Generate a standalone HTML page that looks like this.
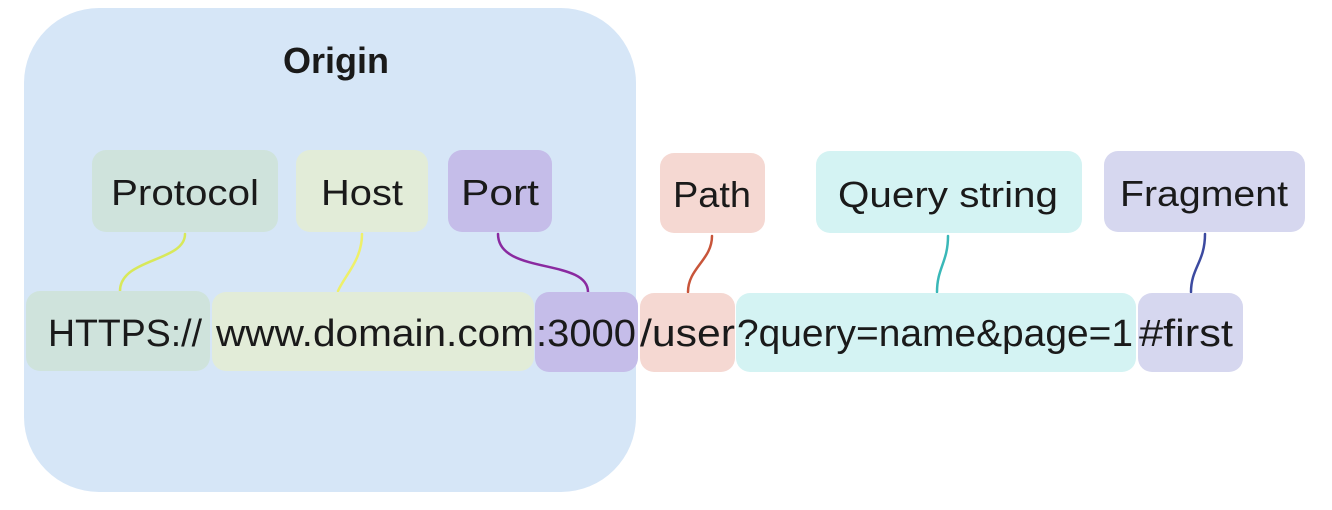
<!DOCTYPE html>
<html><head><meta charset="utf-8"><style>html,body{margin:0;padding:0;background:#fff}svg{display:block}</style></head>
<body>
<svg width="1332" height="510" viewBox="0 0 1332 510" xmlns="http://www.w3.org/2000/svg" font-family="Liberation Sans, sans-serif">
<rect x="24" y="8" width="612" height="484" rx="75" fill="#d6e6f7"/>
<text x="336" y="73" font-size="36" font-weight="bold" text-anchor="middle" fill="#1a1a1a">Origin</text>
<g>
<rect x="92" y="150" width="186" height="82" rx="14" fill="#cfe3dc"/>
<rect x="296" y="150" width="132" height="82" rx="14" fill="#e2ecd8"/>
<rect x="448" y="150" width="104" height="82" rx="14" fill="#c5bde9"/>
<rect x="660" y="153" width="105" height="80" rx="14" fill="#f5d8d2"/>
<rect x="816" y="151" width="266" height="82" rx="14" fill="#d4f3f3"/>
<rect x="1104" y="151" width="201" height="81" rx="14" fill="#d6d7ef"/>
</g>
<g font-size="36" fill="#1a1a1a" text-anchor="middle">
<text x="185" y="205" textLength="148" lengthAdjust="spacingAndGlyphs">Protocol</text>
<text x="362" y="205" textLength="82" lengthAdjust="spacingAndGlyphs">Host</text>
<text x="500" y="205" textLength="78" lengthAdjust="spacingAndGlyphs">Port</text>
<text x="712" y="207" textLength="78" lengthAdjust="spacingAndGlyphs">Path</text>
<text x="948" y="207" textLength="220" lengthAdjust="spacingAndGlyphs">Query string</text>
<text x="1204" y="206" textLength="168" lengthAdjust="spacingAndGlyphs">Fragment</text>
</g>
<g fill="none" stroke-width="2.5" stroke-linecap="round">
<path d="M185 234 C185 262 120 258 120 291" stroke="#d8e85a"/>
<path d="M362 234 C362 260 345 275 338 291" stroke="#eef06a"/>
<path d="M498 234 C498 275 588 258 588 292" stroke="#8a2aa0"/>
<path d="M712 236 C712 260 688 268 688 292" stroke="#c8553a"/>
<path d="M948 236 C948 262 937 268 937 292" stroke="#3ab8b8"/>
<path d="M1205 234 C1205 262 1191 268 1191 292" stroke="#3c4aa0"/>
</g>
<g>
<rect x="26" y="291" width="184" height="80" rx="14" fill="#cfe3dc"/>
<rect x="212" y="292" width="322" height="79" rx="14" fill="#e2ecd8"/>
<rect x="535" y="292" width="103" height="80" rx="14" fill="#c5bde9"/>
<rect x="640" y="293" width="95" height="79" rx="14" fill="#f5d8d2"/>
<rect x="736" y="293" width="400" height="79" rx="14" fill="#d4f3f3"/>
<rect x="1138" y="293" width="105" height="79" rx="14" fill="#d6d7ef"/>
</g>
<g font-size="38" fill="#1a1a1a">
<text x="48" y="346" textLength="154" lengthAdjust="spacingAndGlyphs">HTTPS://</text>
<text x="216" y="346" textLength="318" lengthAdjust="spacingAndGlyphs">www.domain.com</text>
<text x="536" y="346" textLength="100" lengthAdjust="spacingAndGlyphs">:3000</text>
<text x="640" y="346" textLength="95" lengthAdjust="spacingAndGlyphs">/user</text>
<text x="737" y="346" textLength="396" lengthAdjust="spacingAndGlyphs">?query=name&amp;page=1</text>
<text x="1139" y="346" textLength="94" lengthAdjust="spacingAndGlyphs">#first</text>
</g>
</svg>
</body></html>
